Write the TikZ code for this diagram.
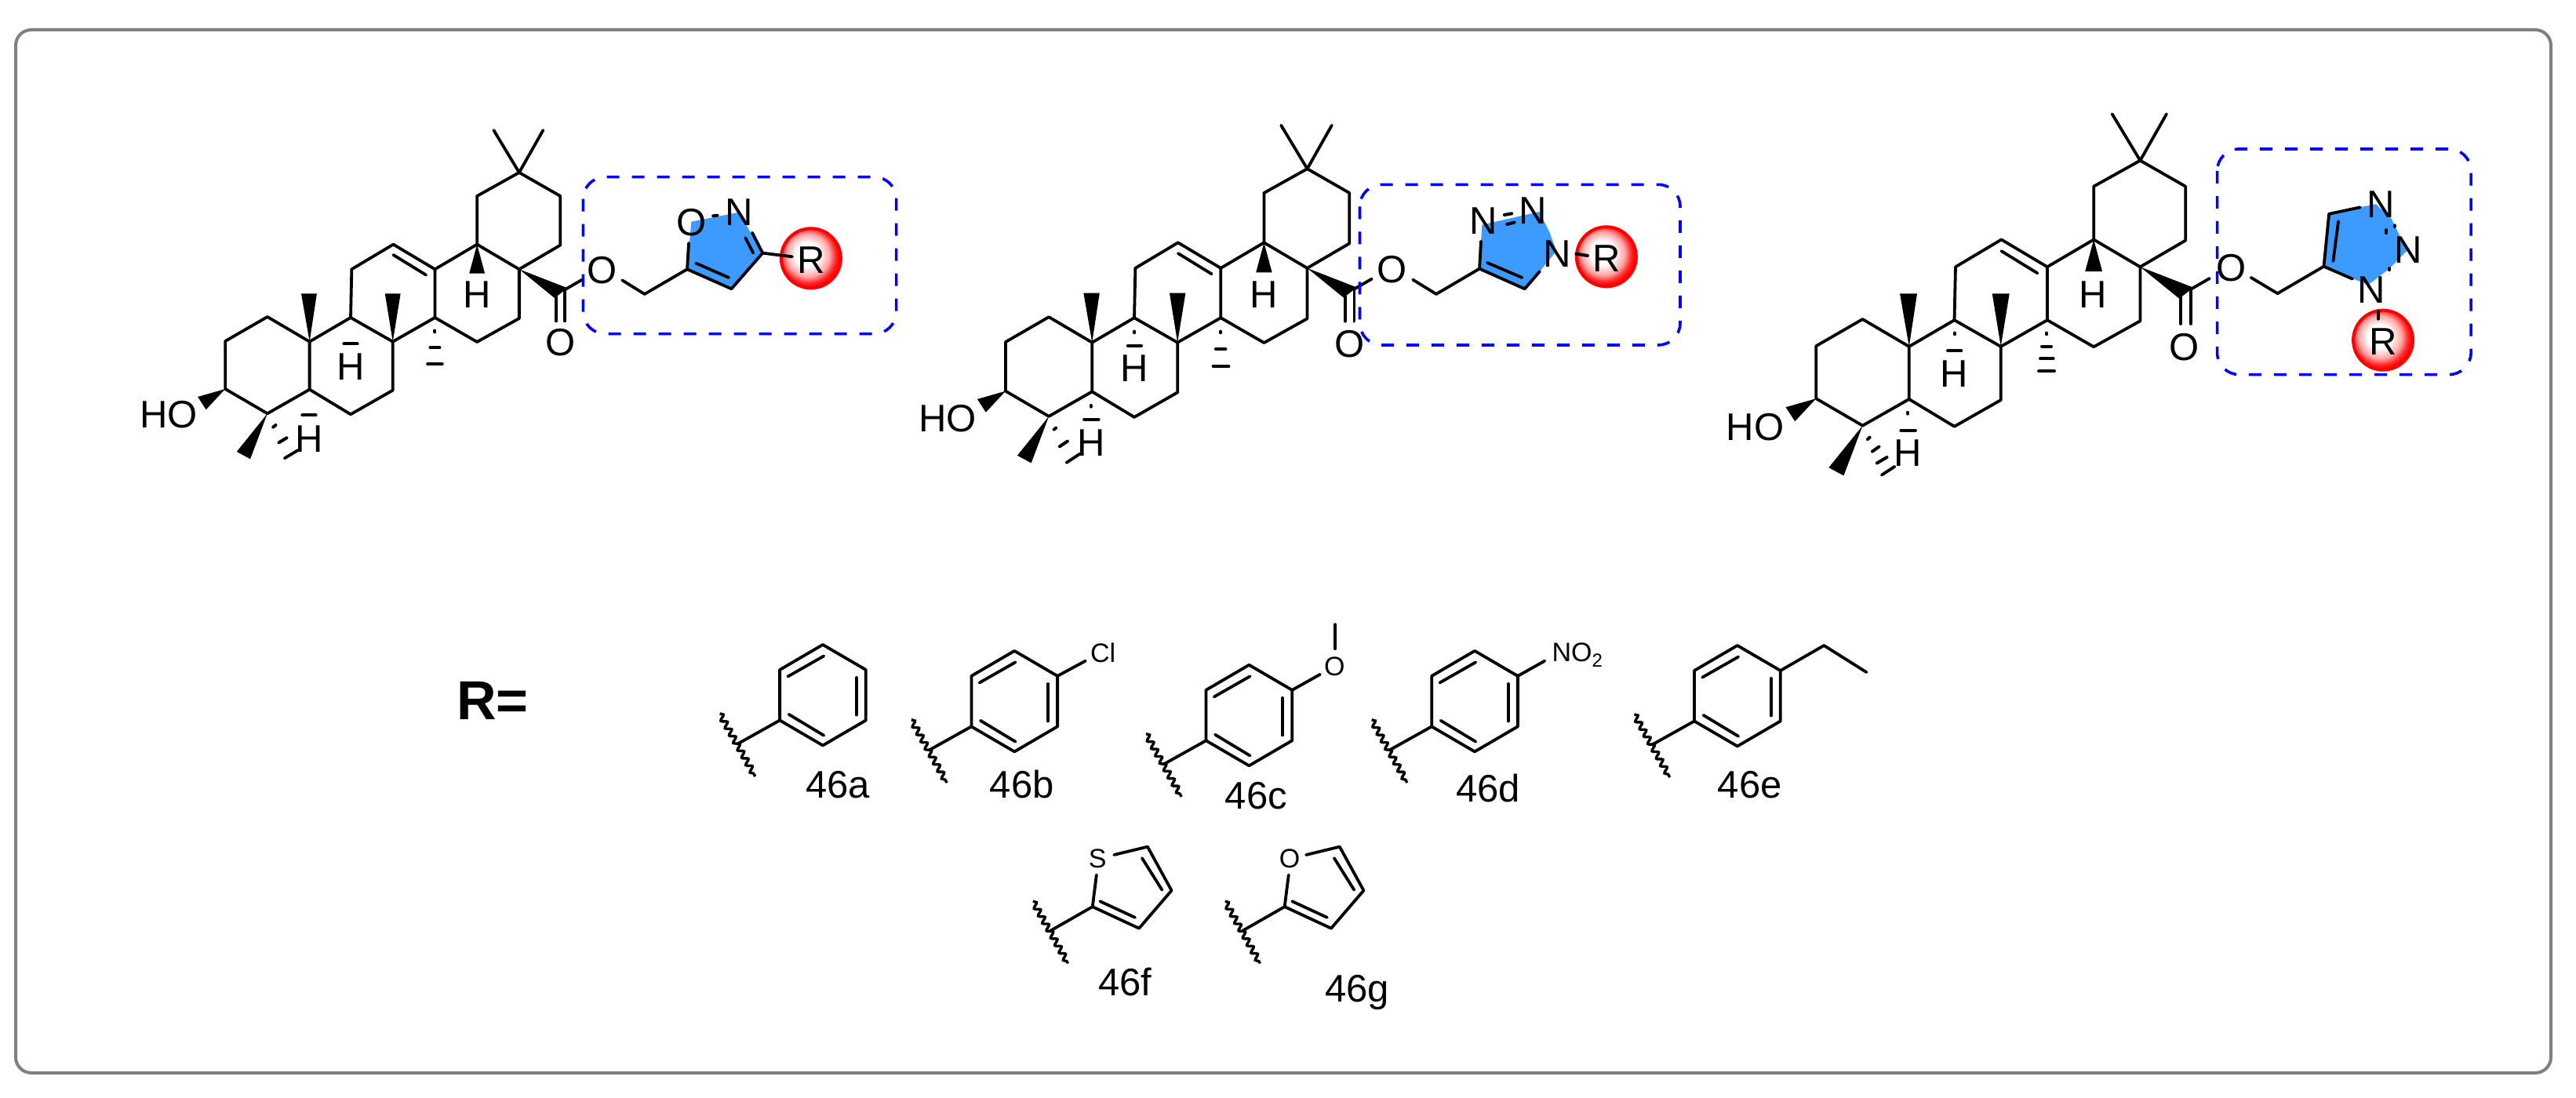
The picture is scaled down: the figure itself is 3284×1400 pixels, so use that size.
\documentclass[tikz,border=0pt]{standalone}
\usepackage{fontspec}
\setmainfont{Liberation Sans}
\usetikzlibrary{decorations.pathmorphing}
\pgfdeclareradialshading{redball}{\pgfpoint{-4bp}{4bp}}{color(0bp)=(white); color(10bp)=(white); color(18bp)=(red!35!white); color(23bp)=(red!85!white); color(26bp)=(red); color(50bp)=(red)}
\definecolor{ringblue}{RGB}{61,155,255}
\definecolor{framegray}{RGB}{128,128,128}
\tikzset{
  bond/.style={line width=1.9pt,line cap=round,line join=round,black},
  wedgebond/.style={fill=black,draw=none},
  hashmark/.style={line width=2pt,line cap=round,black},
  atom/.style={inner sep=0pt,font=\fontsize{24.5}{29}\selectfont},
  atomsmall/.style={inner sep=0pt,font=\fontsize{17}{20}\selectfont},
  compound/.style={inner sep=0pt,anchor=base,font=\fontsize{24.5}{29}\selectfont},
  hlbox/.style={draw=blue,line width=1.8pt,dash pattern=on 8pt off 8pt,rounded corners=14pt},
  ringfill/.style={fill=ringblue,draw=none},
  rball/.style={circle,draw=red,line width=2pt,shading=redball,inner sep=0pt,minimum size=38pt,font=\fontsize{24.5}{29}\selectfont},
  wavy/.style={line width=1.7pt,decorate,decoration={snake,segment length=5.4pt,amplitude=1.7pt}},
  zoomA/.style={shift={(140,130)},xscale=0.6631,yscale=0.3333},
  zoomB/.style={shift={(1150,130)},xscale=0.6631,yscale=0.3333},
  zoomC/.style={shift={(2180,120)},xscale=0.6631,yscale=0.338},
  zoomD/.style={shift={(540,760)},xscale=0.6378,yscale=0.3444},
}
% triterpene skeleton, in the coordinates of the first molecule
\newcommand{\skeleton}{%
  \coordinate (a1) at (222,915); \coordinate (a2) at (303,822); \coordinate (a3) at (384,917);
  \coordinate (a4) at (384,1100); \coordinate (a5) at (303,1192); \coordinate (a6) at (222,1098);
  \coordinate (b1) at (463,825); \coordinate (b2) at (544,917); \coordinate (b3) at (544,1103); \coordinate (b4) at (463,1195);
  \coordinate (c1) at (625,825); \coordinate (c2) at (625,640); \coordinate (c3) at (545,545); \coordinate (c4) at (465,640);
  \coordinate (d1) at (706,545); \coordinate (d2) at (787,640); \coordinate (d3) at (787,828); \coordinate (d4) at (706,918);
  \coordinate (e1) at (866,548); \coordinate (e2) at (866,360); \coordinate (e3) at (787,270); \coordinate (e4) at (706,360);
  \coordinate (me1) at (738,108); \coordinate (me2) at (833,108);
  \coordinate (cc) at (870,728); \coordinate (ci) at (875,718); \coordinate (oe) at (908,680);
  \draw[bond] (a1)--(a2)--(a3)--(a4)--(a5)--(a6)--cycle;
  \draw[bond] (a3)--(b1)--(b2)--(b3)--(b4)--(a4);
  \draw[bond] (b1)--(c4)--(c3)--(c2)--(c1)--(b2);
  \draw[bond] (c2)--(d1)--(d2)--(d3)--(d4)--(c1);
  \draw[bond] (d1)--(e4)--(e3)--(e2)--(e1)--(d2);
  \draw[bond] (me1)--(e3)--(me2);
  \draw[bond] (545,585)--(608,662);
  \draw[bond] (ci)--(oe);
  \draw[bond] (858,745)--(858,838);
  \draw[bond] (875,722)--(875,838);
  \fill[wedgebond] (a3)--(368,733)--(398,733)--cycle;
  \fill[wedgebond] (b2)--(529,733)--(559,733)--cycle;
  \fill[wedgebond] (d1)--(691,656)--(721,656)--cycle;
  \fill[wedgebond] (d2)--(880,712)--(855,750)--cycle;
  \fill[wedgebond] (a6)--(169,1128)--(185,1177)--cycle;
  \fill[wedgebond] (a5)--(244,1338)--(270,1366)--cycle;
}
\newcommand{\phenyl}[3]{%
  \begin{scope}[shift={(#1,#2)},name prefix=#3-]
    \coordinate (t) at (0,0); \coordinate (ur) at (86,93); \coordinate (lr) at (86,280);
    \coordinate (bt) at (0,373); \coordinate (ll) at (-86,280); \coordinate (ul) at (-86,93);
    \coordinate (j) at (-171,368); \coordinate (w1) at (-206,255); \coordinate (w2) at (-135,488);
    \draw[bond] (t)--(ur)--(lr)--(bt)--(ll)--(ul)--cycle;
    \draw[bond] (-70,118)--(2,42);
    \draw[bond] (67,122)--(67,260);
    \draw[bond] (-68,258)--(2,336);
    \draw[bond] (ll)--(j);
    \draw[wavy] (w1)--(w2);
  \end{scope}%
}
\newcommand{\fivering}[3]{%
  \begin{scope}[shift={(#1,#2)},name prefix=#3-]
    \coordinate (c1) at (1447,928); \coordinate (c2) at (1495,1090); \coordinate (c3) at (1430,1230);
    \coordinate (c4) at (1337,1150); \coordinate (j) at (1252,1240);
    \coordinate (h1) at (1380,958); \coordinate (h2) at (1345,1032);
    \coordinate (w1) at (1218,1130); \coordinate (w2) at (1288,1360);
    \draw[bond] (h1)--(c1)--(c2)--(c3)--(c4)--(h2);
    \draw[bond] (1436,970)--(1476,1088);
    \draw[bond] (1352,1130)--(1422,1190);
    \draw[bond] (c4)--(j);
    \draw[wavy] (w1)--(w2);
  \end{scope}%
}
\begin{document}
\begin{tikzpicture}[x=0.5pt,y=-0.5pt]
\useasboundingbox (0,0) rectangle (3284,1400);
\fill[white] (0,0) rectangle (3284,1400);
\draw[framegray,line width=2pt,rounded corners=10pt] (20,38) rectangle (3252,1368);

% ---- molecule 1
\begin{scope}[zoomA]
  \fill[ringfill] (1118,458)--(1210,422)--(1232,500)--(1255,578)--(1195,715)--(1110,640)--cycle;
\end{scope}
\begin{scope}[zoomA,name prefix=m1-]
  \skeleton
\end{scope}
\begin{scope}[zoomA,name prefix=p1-]
  \node[atom] (ho) at (113,1197) {HO};
  \node[atom] (h1) at (706,737) {H};
  \node[atom] (h2) at (463,1013) {H};
  \node[atom] (h3) at (384,1288) {H};
  \node[atom] (oe) at (947,645) {O};
  \node[atom] (oc) at (866,920) {O};
  \node[atom] (ox) at (1118,462) {O};
  \node[atom] (nx) at (1210,422) {N};
  \node[rball] (r) at (1348,598) {};
  \node[atom] (rl) at (1348,604) {R};
  \coordinate (ch) at (1028,735); \coordinate (r5) at (1110,640); \coordinate (r4) at (1195,715); \coordinate (r3) at (1255,578);
  \draw[bond] (985,682)--(ch)--(r5)--(r4)--(r3)--(1235,500);
  \draw[bond] (r5)--(1113,540);
  \draw[bond] (1127,617)--(1190,672);
  \draw[bond] (1237,578)--(1222,520);
  \draw[bond] (r3)--(1312,592);
  \draw[hashmark] (1160,436)--(1168,434);
  \draw[hashmark] (450,925)--(476,925);
  \draw[hashmark] (370,1198)--(396,1198);
  \draw[hashmark] (625,875)--(625,880);
  \draw[hashmark] (616,940)--(634,940);
  \draw[hashmark] (611,1003)--(639,1003);
  \draw[hashmark] (314,1244)--(319,1236);
  \draw[hashmark] (325,1303)--(340,1285);
  \draw[bond] (336,1363)--(362,1332);
  \draw[hlbox] (910,287) rectangle (1512,887);
\end{scope}

% ---- molecule 2
\begin{scope}[zoomB]
  \fill[ringfill] (1115,470)--(1225,420)--(1245,500)--(1258,570)--(1225,650)--(1197,715)--(1110,638)--cycle;
\end{scope}
\begin{scope}[shift={(1130.9,122.8)},xscale=0.6806,yscale=0.3423,name prefix=m2-]
  \skeleton
\end{scope}
\begin{scope}[zoomB,name prefix=p2-]
  \node[atom] (ho) at (88,1210) {HO};
  \node[atom] (h1) at (695,737) {H};
  \node[atom] (h2) at (447,1020) {H};
  \node[atom] (h3) at (363,1305) {H};
  \node[atom] (oe) at (942,642) {O};
  \node[atom] (oc) at (860,925) {O};
  \node[atom] (n1) at (1118,455) {N};
  \node[atom] (n2) at (1212,415) {N};
  \node[atom] (n3) at (1260,580) {N};
  \node[rball] (r) at (1354,592) {};
  \node[atom] (rl) at (1354,600) {R};
  \coordinate (ch) at (1027,735); \coordinate (r5) at (1110,638); \coordinate (r4) at (1197,715);
  \draw[bond] (982,680)--(ch)--(r5)--(r4)--(1226,648);
  \draw[bond] (r5)--(1113,533);
  \draw[bond] (1125,615)--(1192,672);
  \draw[hashmark] (1158,432)--(1172,427);
  \draw[hashmark] (1163,468)--(1177,461);
  \draw[hashmark] (1296,581)--(1318,588);
  \draw[hashmark] (434,932)--(460,932);
  \draw[hashmark] (447,878)--(447,883);
  \draw[hashmark] (350,1214)--(378,1214);
  \draw[hashmark] (363,1161)--(363,1166);
  \draw[hashmark] (612,878)--(612,883);
  \draw[hashmark] (603,945)--(622,945);
  \draw[hashmark] (598,1011)--(628,1011);
  \draw[hashmark] (292,1253)--(296,1247);
  \draw[hashmark] (303,1318)--(318,1298);
  \draw[bond] (316,1380)--(342,1346);
  \draw[hlbox] (880,316) rectangle (1496,930);
\end{scope}

% ---- molecule 3
\begin{scope}[zoomC]
  \fill[ringfill] (1190,450)--(1280,415)--(1310,470)--(1340,590)--(1305,660)--(1265,720)--(1180,650)--cycle;
\end{scope}
\begin{scope}[shift={(2153,105.7)},xscale=0.7311,yscale=0.3666,name prefix=m3-]
  \skeleton
\end{scope}
\begin{scope}[zoomC,name prefix=p3-]
  \node[atom] (ho) at (87,1257) {HO};
  \node[atom] (h1) at (736,757) {H};
  \node[atom] (h2) at (470,1055) {H};
  \node[atom] (h3) at (380,1355) {H};
  \node[atom] (oe) at (1002,657) {O};
  \node[atom] (oc) at (912,955) {O};
  \node[atom] (n1) at (1290,415) {N};
  \node[atom] (n2) at (1343,587) {N};
  \node[atom] (n3) at (1272,738) {N};
  \node[rball] (r) at (1294,928) {};
  \node[atom] (rl) at (1294,935) {R};
  \coordinate (ch) at (1091,752); \coordinate (r5) at (1180,650); \coordinate (r4) at (1190,452);
  \draw[bond] (1040,692)--(ch)--(r5)--(r4)--(1250,427);
  \draw[bond] (r5)--(1235,697);
  \draw[bond] (1198,630)--(1208,480);
  \draw[hashmark] (1316,495)--(1316,500);
  \draw[hashmark] (1300,512)--(1300,524);
  \draw[hashmark] (1306,657)--(1306,663);
  \draw[hashmark] (1285,820)--(1285,848);
  \draw[hashmark] (457,968)--(483,968);
  \draw[hashmark] (470,901)--(470,906);
  \draw[hashmark] (367,1268)--(395,1268);
  \draw[hashmark] (380,1201)--(380,1206);
  \draw[hashmark] (647,901)--(647,906);
  \draw[hashmark] (638,952)--(656,952);
  \draw[hashmark] (635,998)--(660,998);
  \draw[hashmark] (632,1045)--(662,1045);
  \draw[hashmark] (303,1302)--(307,1295);
  \draw[hashmark] (312,1348)--(325,1330);
  \draw[hashmark] (321,1392)--(340,1370);
  \draw[bond] (330,1437)--(355,1405);
  \draw[hlbox] (975,207) rectangle (1463,1058);
\end{scope}

% ---- substituents
\node[inner sep=0pt,anchor=base west,font=\bfseries\fontsize{35}{42}\selectfont] (rlabel) at (582,918) {R=};
\begin{scope}[zoomD]
  \phenyl{798}{180}{pa}
  \phenyl{1181}{203}{pb}
  \phenyl{1650}{255}{pc}
  \phenyl{2101}{203}{pd}
  \phenyl{2626}{183}{pe}
  \fivering{0}{0}{pf}
  \fivering{384}{0}{pg}
  \node[atomsmall] (cl) at (1358,210) {Cl};
  \draw[bond] (pb-ur)--(1323,240);
  \node[atomsmall] (om) at (1821,260) {O};
  \draw[bond] (pc-ur)--(1792,290);
  \draw[bond] (1822,195)--(1822,105);
  \node[atomsmall] (no) at (2306,218) {NO\raisebox{-3.5pt}{\fontsize{12}{12}\selectfont 2}};
  \draw[bond] (pd-ur)--(2241,240);
  \coordinate (et1) at (2799,183); \coordinate (et2) at (2884,282);
  \draw[bond] (pe-ur)--(et1)--(et2);
  \node[atomsmall] (su) at (1347,972) {S};
  \node[atomsmall] (fu) at (1731,972) {O};
  \node[compound] (la) at (828,748) {46a};
  \node[compound] (lb) at (1196,748) {46b};
  \node[compound] (lc) at (1664,787) {46c};
  \node[compound] (ld) at (2128,763) {46d};
  \node[compound] (le) at (2651,748) {46e};
  \node[compound] (lf) at (1402,1478) {46f};
  \node[compound] (lg) at (1866,1503) {46g};
\end{scope}
\end{tikzpicture}
\end{document}
